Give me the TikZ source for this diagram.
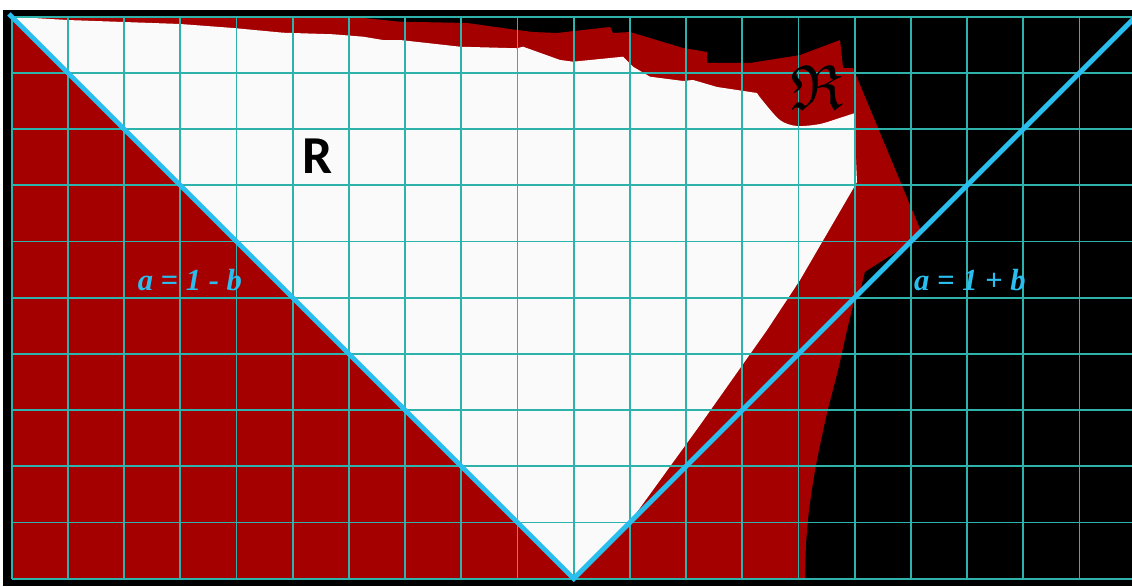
\documentclass[tikz,border=0pt]{standalone}
\usepackage{fontspec}
\usepackage{amssymb}
\usepackage{graphicx}
\newfontfamily\carlito{Carlito}
\newfontfamily\libserif{Liberation Serif}
\definecolor{regred}{RGB}{165,0,0}
\definecolor{regwhite}{RGB}{250,250,250}
\definecolor{gridteal}{RGB}{45,178,172}
\definecolor{linecyan}{RGB}{41,190,238}

\begin{document}
\begin{tikzpicture}[
  x=1cm, y=1cm,
  gridline/.style={draw=gridteal, line width=0.9pt},
  bound/.style={draw=linecyan, line width=2.5pt},
  eqlabel/.style={text=linecyan, inner sep=0pt,
    font=\libserif\bfseries\itshape\fontsize{15.5}{16}\selectfont},
  biglabel/.style={inner sep=0pt, font=\carlito\bfseries\fontsize{27}{27}\selectfont}
]
% Cadre
\useasboundingbox (-0.208,-0.130) rectangle (19.934,10.297);
\fill[white] (-0.208,-0.130) rectangle (19.934,10.297);
\fill[black] (-0.155,-0.130) rectangle (19.934,10.12);

% Region rouge
\fill[regred] (0,0) -- (0,10) -- (6.02,10) -- (6.909,9.911) -- (8.101,9.888)
  -- (8.991,9.763) -- (9.276,9.727) -- (9.703,9.710) -- (10.646,9.817)
  -- (10.699,9.710) -- (11.002,9.727) -- (11.945,9.443) -- (12.372,9.372)
  -- (12.372,9.176) -- (13.137,9.176) -- (14.027,9.317) -- (14.739,9.584)
  -- (14.792,9.085) -- (14.970,9.085) -- (16.18,6.18) -- (15.93,5.93)
  -- (15.51,5.67) -- (15.18,5.46) -- (15.09,5.08) -- (15.0,4.98)
  -- plot[smooth] coordinates {(15.0,4.98) (14.863,4.425) (14.703,3.713)
     (14.507,2.948) (14.311,2.023) (14.187,1.222) (14.133,0.6) (14.116,0)}
  -- cycle;

% Region blanche R
\fill[regwhite] (0,10) -- (0.984,9.941) -- (2.995,9.870) -- (3.938,9.799)
  -- (4.827,9.715) -- (5.717,9.687) -- (6.251,9.644) -- (6.607,9.585)
  -- (6.909,9.585) -- (7.977,9.466) -- (8.991,9.438) -- (9.098,9.466)
  -- (9.756,9.230) -- (9.988,9.199) -- (10.877,9.288) -- (11.055,9.110)
  -- (11.358,8.932) -- (11.945,8.856) -- (12.123,8.874) -- (12.550,8.749)
  -- (13.262,8.642)
  -- plot[smooth] coordinates {(13.262,8.642) (13.35,8.52) (13.67,8.16)
     (13.97,8.055) (14.38,8.09) (14.74,8.2) (15.005,8.286)}
  -- (15.023,7.45) -- (15.041,7.058) -- (14.027,5.315) -- (13.44,4.425)
  -- (12.248,2.735) -- (10.97,0.97) -- (10,0) -- cycle;

% Grille
\foreach \i in {0,...,19}
  \draw[gridline] (\i,0) -- (\i,10);
\foreach \j in {0,...,10}
  \draw[gridline] (0,\j) -- (19.934,\j);

% Droites a = 1 - b et a = 1 + b
\coordinate (corner) at (-0.05,10.05);
\coordinate (apex) at (10,0);
\coordinate (far) at (20.2,10.2);
\draw[bound] (corner) -- (apex) -- (far);

% Etiquettes
\node[biglabel] (setR) at (5.45,7.52) {R};
\node[inner sep=0pt] (frakR) at (14.33,8.75)
  {\scalebox{1.3}{\fontsize{24.88}{25}\selectfont$\mathfrak{R}$}};
\node[eqlabel] (lhs) at (3.17,5.32) {a = 1 - b};
\node[eqlabel] (rhs) at (17.05,5.32) {a = 1 + b};
\end{tikzpicture}
\end{document}
